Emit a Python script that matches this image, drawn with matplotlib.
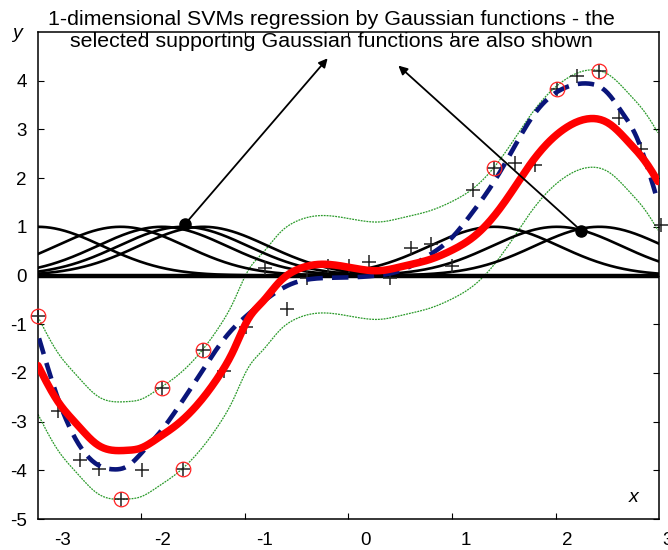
import numpy as np
import matplotlib
matplotlib.use("Agg")
import matplotlib.pyplot as plt

plt.rcParams['font.family'] = ['Liberation Sans', 'DejaVu Sans']

# Training samples (x, y)
sample_x = [-3.24, -3.04, -2.82, -2.63, -2.42, -2.21, -2.01, -1.80, -1.60, -1.40,
            -1.18, -0.99, -0.77, -0.57, -0.37, -0.16, 0.04, 0.25, 0.46, 0.65,
            0.86, 1.07, 1.28, 1.49, 1.68, 1.90, 2.10, 2.32, 2.51, 2.73, 2.93]
sample_y = [-0.84, -2.79, -3.78, -3.98, -4.58, -4.00, -2.30, -3.98, -1.52, -1.97,
            -1.05, 0.15, -0.68, -0.06, 0.20, 0.19, 0.27, -0.06, 0.57, 0.64,
            0.19, 1.75, 2.20, 2.30, 2.26, 3.82, 4.10, 4.19, 3.24, 2.59, 1.03]

# Indices of the support vectors
support_idx = [0, 4, 6, 7, 8, 22, 25, 27]

# SVM regression output
svr_x = [-3.238, -3.040, -2.851, -2.653, -2.495, -2.356, -2.228, -2.059, -1.861, -1.634,
         -1.436, -1.307, -1.158, -1.010, -0.842, -0.673, -0.446, -0.218, -0.020, 0.149,
         0.376, 0.644, 0.871, 1.079, 1.277, 1.446, 1.614, 1.782, 1.980, 2.218,
         2.416, 2.614, 2.782, 2.901]
svr_y = [-1.85, -2.59, -3.06, -3.47, -3.59, -3.59, -3.55, -3.35, -3.06, -2.59,
         -2.03, -1.56, -0.90, -0.53, -0.12, 0.12, 0.23, 0.19, 0.12, 0.10,
         0.19, 0.33, 0.53, 0.80, 1.22, 1.70, 2.22, 2.66, 3.02, 3.22,
         3.12, 2.73, 2.32, 1.93]

# Underlying (true) function
true_x = [-3.228, -3.040, -2.851, -2.653, -2.495, -2.356, -2.198, -2.000, -1.832, -1.634,
          -1.465, -1.307, -1.158, -0.941, -0.713, -0.475, -0.178, 0.119, 0.376, 0.644,
          0.842, 1.040, 1.248, 1.446, 1.644, 1.812, 2.010, 2.218, 2.376, 2.545,
          2.683, 2.782, 2.891]
true_y = [-1.29, -2.53, -3.41, -3.88, -3.98, -3.92, -3.61, -3.14, -2.65, -2.03,
          -1.50, -1.09, -0.80, -0.43, -0.16, -0.06, -0.04, 0.00, 0.12, 0.43,
          0.74, 1.23, 1.83, 2.52, 3.22, 3.63, 3.88, 3.94, 3.80, 3.35,
          2.87, 2.32, 1.58]

epsilon = 1.0          # half-width of the insensitive tube
kernel_sigma = 0.64    # width of the Gaussian basis functions

x_tick_values = [-3, -2, -1, 0, 1, 2, 3]
x_tick_labels = ['-3', '-2', '-1', '0', '1', '2', '3']
y_tick_values = [-5, -4, -3, -2, -1, 0, 1, 2, 3, 4]
y_tick_labels = ['-5', '-4', '-3', '-2', '-1', '0', '1', '2', '3', '4']

title = ("1-dimensional SVMs regression by Gaussian functions - the\n"
         "selected supporting Gaussian functions are also shown")

xlo, xhi = -3.238, 2.911
ylo, yhi = -5.0, 5.0


def smooth(xs, ys, n=12):
    """Natural cubic spline through the given points, sampled densely."""
    x = np.asarray(xs, float)
    y = np.asarray(ys, float)
    k = len(x)
    h = np.diff(x)
    A = np.zeros((k, k))
    r = np.zeros(k)
    A[0, 0] = A[-1, -1] = 1.0
    for i in range(1, k - 1):
        A[i, i - 1] = h[i - 1]
        A[i, i] = 2 * (h[i - 1] + h[i])
        A[i, i + 1] = h[i]
        r[i] = 3 * ((y[i + 1] - y[i]) / h[i] - (y[i] - y[i - 1]) / h[i - 1])
    c = np.linalg.solve(A, r)
    b = (y[1:] - y[:-1]) / h - h * (2 * c[:-1] + c[1:]) / 3
    d = (c[1:] - c[:-1]) / (3 * h)
    out_x, out_y = [], []
    for i in range(k - 1):
        t = np.linspace(0, h[i], n, endpoint=False)
        out_x.append(x[i] + t)
        out_y.append(y[i] + b[i] * t + c[i] * t ** 2 + d[i] * t ** 3)
    out_x.append([x[-1]])
    out_y.append([y[-1]])
    return np.concatenate(out_x), np.concatenate(out_y)


fig = plt.figure(figsize=(6.68, 5.5), dpi=100)
ax = fig.add_axes([38 / 668, 1 - 519 / 550, 621 / 668, 487 / 550])
ax.set_xlim(xlo, xhi)
ax.set_ylim(ylo, yhi)

svr_sx, svr_sy = smooth(svr_x, svr_y)
true_sx, true_sy = smooth(true_x, true_y)

# epsilon tube
for off in (epsilon, -epsilon):
    ax.plot(svr_sx, svr_sy + off, color='#2a9a2a', lw=0.9,
            ls=(0, (1.5, 0.8)), zorder=2)

# Gaussian basis functions at the support vectors
grid = np.linspace(xlo, xhi, 600)
for i in support_idx:
    c = sample_x[i]
    ax.plot(grid, np.exp(-(grid - c) ** 2 / (2 * kernel_sigma ** 2)),
            color='black', lw=1.9, zorder=3)
ax.axhline(0, color='black', lw=3.2, zorder=3)

# samples
ax.plot(sample_x, sample_y, ls='none', marker='+', ms=10, mew=1.1,
        color='#222222', zorder=4, clip_on=False)

# true function and regression
ax.plot(true_sx, true_sy, color='#0a157a', lw=3.3, ls=(0, (3.6, 2.0)),
        zorder=5, solid_capstyle='butt')
ax.plot(svr_sx, svr_sy, color='#ff0000', lw=5.4, zorder=6,
        solid_capstyle='round', solid_joinstyle='round')

# support vectors
ax.plot([sample_x[i] for i in support_idx], [sample_y[i] for i in support_idx],
        ls='none', marker='o', ms=10.5, mfc='none', mec='#ff2020', mew=0.9,
        zorder=7, clip_on=False)

# pointers from the text to the basis functions
arrow_tails = [(-1.78, 1.06), (2.14, 0.92)]
arrow_heads = [(-0.37, 4.46), (0.33, 4.31)]
for (tx, ty), (hx, hy) in zip(arrow_tails, arrow_heads):
    ax.annotate('', xy=(hx, hy), xytext=(tx, ty),
                arrowprops=dict(arrowstyle='-|>', lw=1.3, color='black',
                                mutation_scale=13, shrinkA=0, shrinkB=0),
                zorder=8)
    ax.plot(tx, ty, 'o', ms=8, color='black', zorder=9)

# axes styling
for sp in ax.spines.values():
    sp.set_linewidth(1.1)
ax.set_yticks(y_tick_values)
ax.set_yticklabels(y_tick_labels, fontsize=13.5)
ax.tick_params(axis='y', direction='in', left=True, right=True, length=4,
               width=0.8, pad=8)
ax.set_xticks(np.linspace(xlo, xhi, 7)[1:-1])
ax.set_xticklabels([])
ax.tick_params(axis='x', direction='in', bottom=True, top=True, length=4,
               width=0.8)
for v, s in zip(x_tick_values, x_tick_labels):
    ax.text(v, -0.027, s, transform=ax.get_xaxis_transform(), ha='center',
            va='top', fontsize=13.5, clip_on=False)

fig.text(17 / 668, 1 - 33 / 550, 'y', style='italic', fontsize=14,
         ha='center', va='center')
fig.text(634 / 668, 1 - 497 / 550, 'x', style='italic', fontsize=14,
         ha='center', va='center')
fig.text(331 / 668, 1 - 30.5 / 550, title, ha='center', va='center',
         fontsize=15.4, linespacing=1.18, zorder=10)

fig.savefig('out.png', dpi=100)
